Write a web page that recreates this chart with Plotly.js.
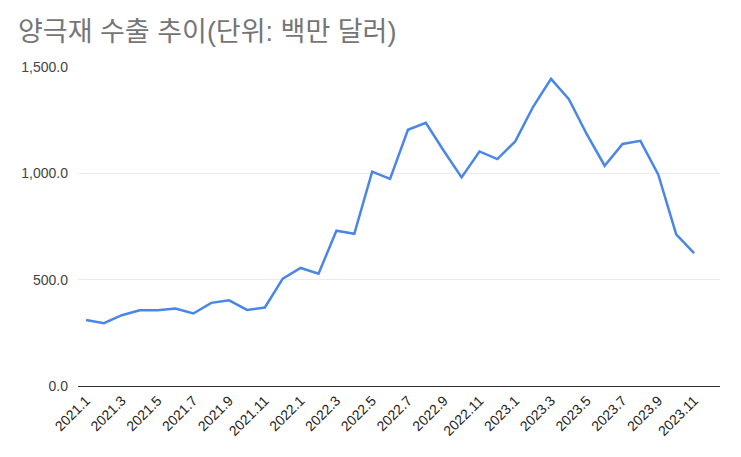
<!DOCTYPE html>
<html>
<head>
<meta charset="utf-8">
<script src="https://cdn.plot.ly/plotly-3.0.1.min.js"></script>
<style>
  body { margin: 0; background: #fff; }
  #graph { width: 741px; height: 457px; }
</style>
</head>
<body>
<div id="graph"></div>
<script>
// months 2021.1 .. 2023.11
let months = [
  "2021.1", "2021.2", "2021.3", "2021.4", "2021.5", "2021.6",
  "2021.7", "2021.8", "2021.9", "2021.10", "2021.11", "2021.12",
  "2022.1", "2022.2", "2022.3", "2022.4", "2022.5", "2022.6",
  "2022.7", "2022.8", "2022.9", "2022.10", "2022.11", "2022.12",
  "2023.1", "2023.2", "2023.3", "2023.4", "2023.5", "2023.6",
  "2023.7", "2023.8", "2023.9", "2023.10", "2023.11"
];
// export value, million USD
let exports = [
  310, 295, 333, 356, 356, 364,
  341, 391, 403, 358, 369, 505,
  555, 528, 730, 716, 1008, 974,
  1205, 1238, 1106, 981, 1103, 1067,
  1150, 1313, 1444, 1349, 1184, 1036,
  1138, 1153, 994, 713, 625
];
let tick_labels = months.filter((m, i) => i % 2 === 0);

let base_font = "'Liberation Sans', Arial, 'Noto Sans CJK KR', sans-serif";

let trace = {
  x: months,
  y: exports,
  type: "scatter",
  mode: "lines",
  line: { color: "#4a86e8", width: 2.5 },
  hoverinfo: "skip",
};

let layout = {
  width: 741,
  height: 457,
  paper_bgcolor: "#fff",
  plot_bgcolor: "#fff",
  font: { family: base_font, color: "#222" },
  title: {
    text: "양극재 수출 추이(단위: 백만 달러)",
    font: { size: 27, color: "#757575", family: base_font },
    x: 0, xref: "paper", xanchor: "left",
    y: 0.93, yanchor: "middle",
    pad: { l: -60 },
  },
  xaxis: {
    type: "category",
    range: [-0.45, 35.45],
    tickvals: tick_labels,
    ticktext: tick_labels,
    tickangle: -45,
    tickfont: { size: 14, color: "#222" },
    showgrid: false,
    showline: true,
    linecolor: "#333",
    linewidth: 1,
    ticks: "",
    fixedrange: true,
  },
  yaxis: {
    range: [0, 1500],
    tickvals: [0, 500, 1000, 1500],
    tickformat: ",.1f",
    tickfont: { size: 14, color: "#444" },
    showgrid: true,
    gridcolor: "#ebebeb",
    zeroline: false,
    showline: false,
    ticks: "",
    ticklabelstandoff: 9,
    fixedrange: true,
  },
  margin: { l: 78, r: 21, t: 67, b: 71 },
  showlegend: false,
};

Plotly.newPlot("graph", [trace], layout, { displayModeBar: false, staticPlot: true });
</script>
</body>
</html>
